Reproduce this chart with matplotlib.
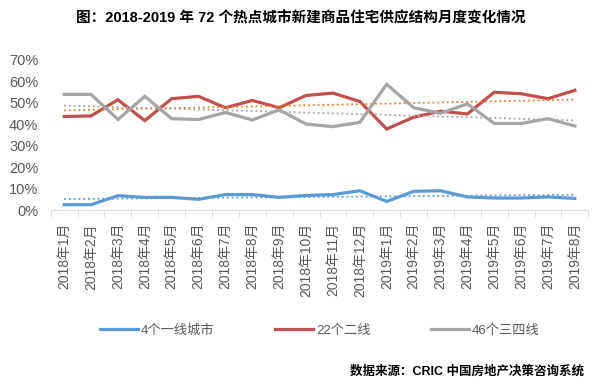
import numpy as np
import matplotlib.pyplot as plt
from matplotlib.ticker import PercentFormatter

plt.rcParams['font.family'] = ['Liberation Sans', 'Noto Sans CJK SC', 'DejaVu Sans']

#%% Datos
meses = ['2018年1月', '2018年2月', '2018年3月', '2018年4月', '2018年5月', '2018年6月',
         '2018年7月', '2018年8月', '2018年9月', '2018年10月', '2018年11月', '2018年12月',
         '2019年1月', '2019年2月', '2019年3月', '2019年4月', '2019年5月', '2019年6月',
         '2019年7月', '2019年8月']

yixian = [2.7, 2.7, 6.9, 6.1, 6.1, 5.2, 7.4, 7.4, 6.1, 7.0,
          7.4, 9.2, 4.2, 8.9, 9.2, 6.3, 5.8, 5.8, 6.3, 5.6]
erxian = [43.7, 44.0, 51.5, 41.8, 52.0, 53.1, 47.8, 51.2, 47.8, 53.5,
          54.6, 50.7, 37.9, 43.4, 46.2, 44.9, 55.0, 54.3, 52.0, 55.9]
sansi = [54.0, 54.0, 42.3, 53.1, 42.7, 42.3, 45.6, 42.1, 46.8, 40.2,
         39.0, 41.0, 58.7, 47.8, 45.2, 49.6, 40.5, 40.5, 42.7, 39.3]

series = [
    ('4个一线城市', yixian, '#5B9BD5', '#5B9BD5'),
    ('22个二线', erxian, '#C0504D', '#ED7D31'),
    ('46个三四线', sansi, '#A5A5A5', '#A5A5A5'),
]

#%% Grafico
fig = plt.figure(figsize=(6.01, 3.79), dpi=100)
ax = fig.add_axes([0.0844, 0.4446, 0.8945, 0.3971])

x = np.arange(len(meses))
for nombre, vals, color, color_tend in series:
    ax.plot(x, vals, color=color, lw=2.3, label=nombre, solid_joinstyle='miter')
    # linea de tendencia (ajuste lineal, como en Excel)
    p = np.polyfit(x, vals, 1)
    ax.plot(x, np.polyval(p, x), ':', color=color_tend, lw=1.3)

ax.set_xlim(-0.5, len(meses) - 0.5)
ax.set_ylim(0, 70)
ax.set_yticks(np.arange(0, 71, 10))
ax.yaxis.set_major_formatter(PercentFormatter(decimals=0))
ax.set_xticks(x)
ax.set_xticklabels(meses, rotation=90)
ax.set_xticks(np.arange(-0.5, len(meses)), minor=True)
ax.tick_params(axis='x', which='major', length=0, pad=9, labelsize=10, colors='#595959')
ax.tick_params(axis='x', which='minor', length=5, color='#D9D9D9')
ax.tick_params(axis='y', length=0, labelsize=10.5, colors='#595959', pad=9)

for lado in ['top', 'right', 'left']:
    ax.spines[lado].set_visible(False)
ax.spines['bottom'].set_color('#D9D9D9')

handles, labels = ax.get_legend_handles_labels()
fig.legend(handles, labels, loc='center', bbox_to_anchor=(0.532, 0.127), ncol=3,
           frameon=False, fontsize=9.5, handlelength=2.9, handletextpad=0.2,
           columnspacing=4.6, labelcolor='#595959')

fig.text(0.5, 0.952, '图：2018-2019 年 72 个热点城市新建商品住宅供应结构月度变化情况',
         ha='center', va='center', fontsize=10.5, fontweight='bold', color='black')
fig.text(0.972, 0.021, '数据来源：CRIC 中国房地产决策咨询系统', ha='right', va='center',
         fontsize=9, fontweight='bold', color='black')

fig.savefig('out.png', dpi=100)
